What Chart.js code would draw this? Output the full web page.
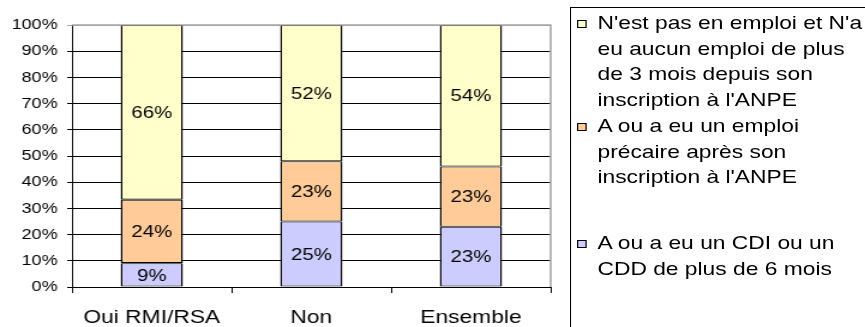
<!DOCTYPE html>
<html>
<head>
<meta charset="utf-8">
<script src="https://cdn.jsdelivr.net/npm/chart.js@4/dist/chart.umd.min.js"></script>
<style>
  html, body { margin: 0; padding: 0; background: #fff; overflow: hidden; }
  #stage { position: absolute; left: 0; top: 0; width: 721px; height: 327px;
           transform: scaleX(1.19972); transform-origin: 0 0; }
  #chart { position: absolute; left: 0; top: 0; width: 721px; height: 327px; }
  #legend { position: absolute; left: 475px; top: 7px; width: 320px; height: 400px;
            border-top: 1px solid #000; border-left: 1px solid #000;
            font-family: 'Liberation Sans', Arial, sans-serif; font-size: 19px;
            line-height: 25.7px; color: #000; }
  .item { position: relative; padding-left: 22px; }
  .swatch { position: absolute; left: 5px; top: 10px; width: 6px; height: 6px; border: 1px solid #000; }
</style>
</head>
<body>
<div id="stage">
  <canvas id="chart" width="721" height="327"></canvas>
  <div id="legend"></div>
</div>
<script>
// Catégories (situation vis-à-vis du RMI/RSA)
const categories = ['Oui RMI/RSA', 'Non', 'Ensemble'];

// Parts en % de chaque situation d'emploi, par catégorie
const cdiShares        = [9, 25, 23];  // CDI ou CDD de plus de 6 mois
const precaireShares   = [24, 23, 23]; // emploi précaire
const sansEmploiShares = [66, 52, 54]; // aucun emploi de plus de 3 mois

// Graduations de l'axe vertical
const yTicks = [0, 10, 20, 30, 40, 50, 60, 70, 80, 90, 100];

// Libellés de légende, découpés en lignes
const labelCdi = ['A ou a eu un CDI ou un', 'CDD de plus de 6 mois'];
const labelPrecaire = ['A ou a eu un emploi', 'précaire après son', "inscription à l'ANPE"];
const labelSansEmploi = ["N'est pas en emploi et N'a", 'eu aucun emploi de plus', 'de 3 mois depuis son', "inscription à l'ANPE"];

const colorCdi = '#CCCCFF';
const colorPrecaire = '#FFCC99';
const colorSansEmploi = '#FFFFCC';

const FONT = "'Liberation Sans', Arial, sans-serif";

// Barres empilées à 100 % : chaque part est rapportée au total de sa catégorie
const totals = categories.map((_, i) => cdiShares[i] + precaireShares[i] + sansEmploiShares[i]);
const toPercent = arr => arr.map((v, i) => v / totals[i] * 100);

function series(lines, shares, color) {
  return {
    label: lines.join(' '),
    lines: lines,
    shares: shares,
    data: toPercent(shares),
    backgroundColor: color,
    borderColor: '#000',
    borderWidth: { top: 1.1, bottom: 1.1, left: 1.5, right: 1.5 },
    borderSkipped: false,
    categoryPercentage: 1,
    barPercentage: 0.39
  };
}

// Valeurs inscrites au centre de chaque segment
const segmentLabels = {
  id: 'segmentLabels',
  afterDatasetsDraw(chart) {
    const ctx = chart.ctx;
    ctx.save();
    ctx.font = '17px ' + FONT;
    ctx.fillStyle = '#000';
    ctx.textAlign = 'center';
    ctx.textBaseline = 'middle';
    chart.data.datasets.forEach((ds, di) => {
      chart.getDatasetMeta(di).data.forEach((bar, i) => {
        ctx.fillText(ds.shares[i] + '%', bar.x, (bar.y + bar.base) / 2 + 1);
      });
    });
    ctx.restore();
  }
};

// Bordure grise en haut et à droite de la zone de tracé
const plotFrame = {
  id: 'plotFrame',
  afterDatasetsDraw(chart) {
    const { ctx, chartArea: a } = chart;
    ctx.save();
    ctx.strokeStyle = '#a6a6a6';
    ctx.lineWidth = 1.6;
    ctx.beginPath();
    ctx.moveTo(a.left, a.top);
    ctx.lineTo(a.right, a.top);
    ctx.lineTo(a.right, a.bottom);
    ctx.stroke();
    ctx.restore();
  }
};

const datasets = [
  series(labelCdi, cdiShares, colorCdi),
  series(labelPrecaire, precaireShares, colorPrecaire),
  series(labelSansEmploi, sansEmploiShares, colorSansEmploi)
];

const chart = new Chart(document.getElementById('chart'), {
  type: 'bar',
  data: { labels: categories, datasets: datasets },
  options: {
    responsive: false,
    animation: false,
    devicePixelRatio: 1,
    layout: { padding: { top: 25, right: 262, left: 0, bottom: 0 } },
    plugins: { legend: { display: false }, tooltip: { enabled: false } },
    scales: {
      x: {
        stacked: true,
        offset: true,
        grid: { offset: true, drawOnChartArea: false, tickLength: 6, color: '#000', lineWidth: 1 },
        border: { color: '#000', width: 1 },
        ticks: { color: '#000', font: { family: FONT, size: 19 }, padding: 13, maxRotation: 0 },
        afterFit(scale) { scale.height = 40; }
      },
      y: {
        stacked: true,
        min: yTicks[0],
        max: yTicks[yTicks.length - 1],
        afterBuildTicks(scale) { scale.ticks = yTicks.map(v => ({ value: v })); },
        ticks: { color: '#000', font: { family: FONT, size: 15 }, padding: 8, callback: v => v + '%' },
        grid: {
          color: c => (c.tick && c.tick.value === 100 ? '#a6a6a6' : '#000'),
          lineWidth: 1,
          tickLength: 4
        },
        border: { color: '#000', width: 1 },
        afterFit(scale) { scale.width = 60; }
      }
    }
  },
  plugins: [segmentLabels, plotFrame]
});

// Légende : séries dans l'ordre inverse de l'empilement
const legend = document.getElementById('legend');
const gaps = [2, 0, 40];
datasets.slice().reverse().forEach((ds, k) => {
  const item = document.createElement('div');
  item.className = 'item';
  item.style.marginTop = gaps[k] + 'px';
  const sw = document.createElement('span');
  sw.className = 'swatch';
  sw.style.background = ds.backgroundColor;
  item.appendChild(sw);
  ds.lines.forEach(line => {
    const l = document.createElement('div');
    l.textContent = line;
    item.appendChild(l);
  });
  legend.appendChild(item);
});
</script>
</body>
</html>
